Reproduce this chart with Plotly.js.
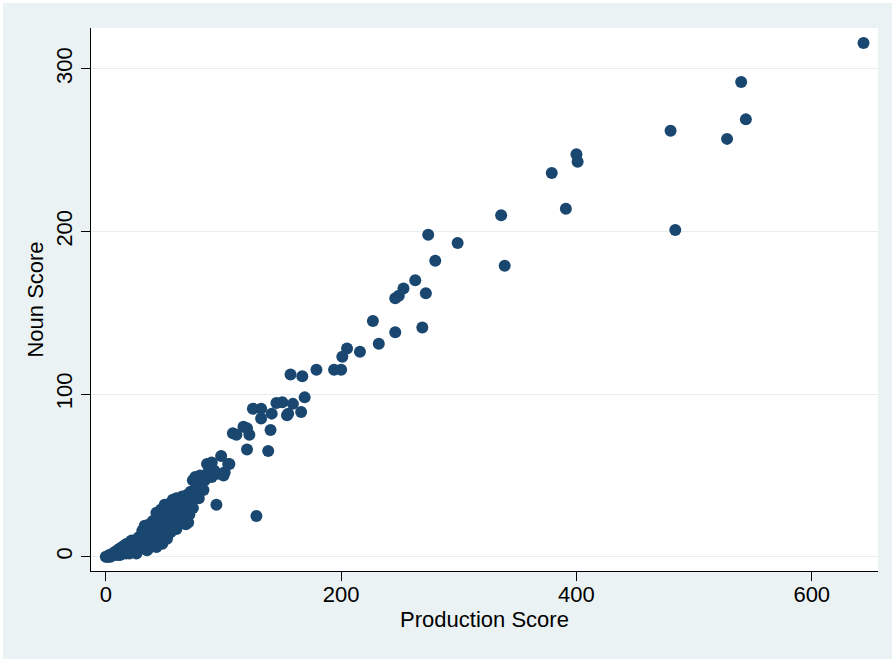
<!DOCTYPE html>
<html>
<head>
<meta charset="utf-8">
<script src="https://cdn.plot.ly/plotly-3.0.1.min.js"></script>
<style>
  html, body { margin: 0; padding: 0; background: #ffffff; }
  #chart { position: absolute; left: 3px; top: 3px; width: 889px; height: 656px; }
</style>
</head>
<body>
<div id="chart"></div>
<script>
// Production Score (x) and Noun Score (y)
const productionScore = [
  644, 540, 544, 528, 480, 484, 400, 401, 379, 391, 336, 339,
  299, 274, 280, 272, 263, 253, 249, 246, 269, 246, 227, 232,
  216, 205, 201, 194, 200, 179, 157, 167, 169, 159, 150, 145,
  154, 155, 166, 141, 132, 125, 132, 140, 138, 128, 117, 120,
  111, 108, 122, 120, 105, 94,
  0, 1, 2, 3, 4, 5, 6, 7, 8, 9, 10, 10, 11, 12, 12, 13, 14, 14, 15, 16,
  16, 17, 18, 18, 19, 20, 20, 21, 22, 22, 23, 24, 24, 25, 26, 26, 27, 28,
  28, 29, 30, 31, 33, 32, 32, 33, 34, 35, 35, 36, 37, 38, 38, 39, 40, 40,
  41, 42, 43, 43, 44, 45, 45, 46, 47, 47, 48, 48, 49, 50, 50, 51, 52, 52,
  53, 54, 55, 55, 56, 57, 57, 58, 59, 60, 60, 61, 62, 62, 63, 64, 65, 66,
  66, 67, 68, 69, 70, 70, 71, 72, 73, 74, 74, 76, 76, 77, 78, 79, 80, 81,
  83, 84, 86, 87, 90, 90, 92, 95, 98, 100, 101, 104
];
const nounScore = [
  316, 292, 269, 257, 262, 201, 247.5, 243, 236, 214, 210, 179,
  193, 198, 182, 162, 170, 165, 160.5, 159, 141, 138, 145, 131,
  126, 128, 123, 115, 115, 115, 112, 111, 98, 94, 95, 94.5,
  87, 88, 89, 88, 91, 91, 85, 78, 65, 25, 80, 79,
  75, 76, 75, 66, 57, 32,
  0, 0, 0, 1, 0, 1, 2, 1, 3, 2, 1, 4, 3, 5, 1, 2, 4, 6, 3, 5,
  7, 2, 6, 8, 4, 7, 2, 9, 5, 10, 3, 8, 10, 6, 10, 2, 4, 12,
  9, 7, 9, 16, 19, 5, 12, 14, 8, 17, 4, 11, 20, 6, 14, 17, 9, 22,
  12, 19, 27, 6, 15, 24, 9, 18, 12, 29, 21, 8, 26, 32, 15, 18, 24, 11,
  28, 21, 15, 33, 26, 35, 18, 30, 22, 36, 17, 27, 33, 20, 24, 30, 37, 22,
  34, 28, 20, 38, 32, 21, 26, 40, 35, 47, 30, 49, 38, 45, 42, 36, 50, 44,
  41, 47, 57, 52, 58, 49, 53, 51, 62, 50, 52, 57
];
const xTickVals = [0, 200, 400, 600];
const xTickText = ["0", "200", "400", "600"];
const yTickVals = [0, 100, 200, 300];
const yTickText = ["0", "100", "200", "300"];

const FONT = "Liberation Sans, Arial, Helvetica, sans-serif";

const trace = {
  type: "scatter",
  mode: "markers",
  x: productionScore,
  y: nounScore,
  marker: { color: "#1A476F", size: 12, line: { width: 0 } },
  hoverinfo: "skip"
};

const layout = {
  width: 889,
  height: 656,
  paper_bgcolor: "#EAF2F3",
  plot_bgcolor: "#FFFFFF",
  margin: { l: 88, r: 14, t: 25, b: 88 },
  showlegend: false,
  font: { family: FONT, size: 22, color: "#000000" },
  xaxis: {
    range: [-12.6, 656.3],
    tickmode: "array",
    tickvals: xTickVals,
    ticktext: xTickText,
    ticks: "outside",
    ticklen: 9,
    tickwidth: 1,
    tickcolor: "#000000",
    ticklabelstandoff: -5,
    showline: true,
    linecolor: "#000000",
    linewidth: 1,
    showgrid: false,
    zeroline: false,
    tickfont: { family: FONT, size: 22, color: "#000000" },
    title: { text: "Production Score", font: { family: FONT, size: 22, color: "#000000" }, standoff: 4 }
  },
  yaxis: {
    range: [-8.8, 325.2],
    tickmode: "array",
    tickvals: yTickVals,
    ticktext: yTickText,
    tickangle: -90,
    ticks: "outside",
    ticklen: 9,
    tickwidth: 1,
    tickcolor: "#000000",
    showline: true,
    linecolor: "#000000",
    linewidth: 1,
    showgrid: true,
    gridcolor: "#E6EEF0",
    gridwidth: 1,
    zeroline: false,
    tickfont: { family: FONT, size: 22, color: "#000000" },
    title: { text: "Noun Score", font: { family: FONT, size: 22, color: "#000000" }, standoff: 2 }
  }
};

Plotly.newPlot("chart", [trace], layout, { displayModeBar: false, staticPlot: true });
</script>
</body>
</html>
